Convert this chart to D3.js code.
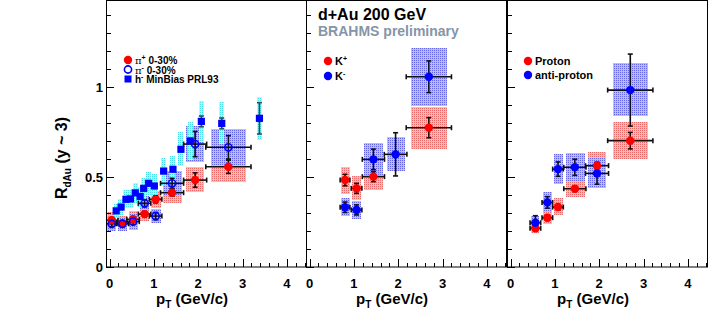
<!DOCTYPE html>
<html>
<head>
<meta charset="utf-8">
<script src="https://cdn.jsdelivr.net/npm/d3@7"></script>
<style>
  body { margin: 0; background: #fff; }
  svg { display: block; font-family: "Liberation Sans", Arial, Helvetica, sans-serif; }
</style>
</head>
<body>
<script>
// ---- data ----
// panel 1: pions and h-
var piPt = [0.05, 0.29, 0.53, 0.79, 1.04, 1.41, 1.93, 2.68];
var piPtErr = [0.14, 0.14, 0.14, 0.14, 0.14, 0.26, 0.26, 0.51];
var piBin = [0.1, 0.1, 0.1, 0.1, 0.11, 0.21, 0.2, 0.4];
var piPlusR = [0.26, 0.243, 0.265, 0.294, 0.376, 0.413, 0.483, 0.557];
var piPlusStat = [0.015, 0.015, 0.015, 0.015, 0.02, 0.018, 0.04, 0.037];
var piPlusSys = [0.045, 0.04, 0.045, 0.04, 0.047, 0.055, 0.07, 0.083];
var piMinusR = [0.24, 0.24, 0.252, 0.354, 0.283, 0.465, 0.683, 0.665];
var piMinusStat = [0.015, 0.015, 0.015, 0.02, 0.02, 0.028, 0.07, 0.065];
var piMinusSys = [0.04, 0.04, 0.045, 0.04, 0.04, 0.07, 0.1, 0.1];

var hPt = [0.15, 0.26, 0.37, 0.47, 0.58, 0.69, 0.77, 0.88, 1.01, 1.22, 1.43, 1.61, 1.82, 2.07, 2.53, 3.38];
var hR = [0.312, 0.333, 0.376, 0.378, 0.412, 0.392, 0.437, 0.465, 0.45, 0.533, 0.543, 0.654, 0.70, 0.809, 0.798, 0.826];
var hStat = [0.01, 0.01, 0.01, 0.01, 0.01, 0.01, 0.01, 0.01, 0.01, 0.01, 0.01, 0.012, 0.015, 0.03, 0.03, 0.087];
var hSys = [0.04, 0.045, 0.05, 0.05, 0.055, 0.055, 0.06, 0.065, 0.065, 0.075, 0.075, 0.095, 0.105, 0.113, 0.118, 0.12];
var hBin = 0.06;

// panel 2: kaons
var kPlusPt = [0.80, 1.06, 1.44, 2.69];
var kPlusPtErr = [0.11, 0.12, 0.25, 0.51];
var kPlusBin = [0.1, 0.1, 0.21, 0.41];
var kPlusR = [0.483, 0.437, 0.502, 0.774];
var kPlusStat = [0.032, 0.028, 0.028, 0.056];
var kPlusSys = [0.074, 0.067, 0.076, 0.116];
var kMinusPt = [0.80, 1.06, 1.44, 1.94, 2.69];
var kMinusPtErr = [0.11, 0.12, 0.25, 0.255, 0.51];
var kMinusBin = [0.1, 0.1, 0.21, 0.2, 0.41];
var kMinusR = [0.332, 0.317, 0.598, 0.626, 1.057];
var kMinusStat = [0.029, 0.028, 0.057, 0.12, 0.088];
var kMinusSys = [0.05, 0.05, 0.09, 0.095, 0.16];

// panel 3: protons
var pPt = [0.56, 0.83, 1.07, 1.45, 1.95, 2.70];
var pPtErr = [0.12, 0.12, 0.12, 0.25, 0.26, 0.51];
var pBin = [0.09, 0.1, 0.1, 0.21, 0.2, 0.4];
var protonR = [0.215, 0.274, 0.333, 0.435, 0.563, 0.702];
var protonStat = [0.013, 0.015, 0.015, 0.015, 0.019, 0.046];
var protonSys = [0.028, 0.037, 0.048, 0.048, 0.074, 0.103];
var antiR = [0.246, 0.359, 0.544, 0.554, 0.52, 0.983];
var antiStat = [0.039, 0.032, 0.04, 0.045, 0.06, 0.2];
var antiSys = [0.037, 0.055, 0.083, 0.079, 0.083, 0.148];

var xTicks = [0, 1, 2, 3, 4];
var yTicks = [0, 0.5, 1];

// ---- layout ----
var width = 708, height = 332;
var panelLeft = [106, 306, 507];
var panelW = 200;
var plotTop = 1, plotBottom = 267;

var svg = d3.select("body").append("svg").attr("width", width).attr("height", height);

var y = d3.scaleLinear().domain([0, 1.478]).range([plotBottom, plotTop]);

// dotted fill patterns (one dark pixel per 2x2 cell)
var defs = svg.append("defs");
function pattern(id, light, dark) {
    var p = defs.append("pattern").attr("id", id).attr("patternUnits", "userSpaceOnUse")
        .attr("width", 2).attr("height", 2);
    p.append("rect").attr("width", 2).attr("height", 2).attr("fill", light);
    p.append("rect").attr("width", 1).attr("height", 1).attr("fill", dark);
}
pattern("pinkDots", "#f9bcbc", "#ea6a6a");
pattern("blueDots", "#bcbcf8", "#6464e6");
pattern("cyanDots", "#b4f8f8", "#48dce8");

function makePanel(i) {
    var left = panelLeft[i];
    var x = d3.scaleLinear().domain([-0.08, 4.43]).range([left, left + panelW]);
    defs.append("clipPath").attr("id", "clip" + i).append("rect")
        .attr("x", left).attr("y", plotTop).attr("width", panelW).attr("height", plotBottom - plotTop);
    var g = svg.append("g");
    var plot = g.append("g").attr("clip-path", "url(#clip" + i + ")");
    return { x: x, g: g, plot: plot, left: left };
}

function boxes(p, pts, rs, bins, sys, fill) {
    p.plot.append("g").selectAll("rect").data(pts).enter().append("rect")
        .attr("x", function (d, i) { return Math.round(p.x(d - (Array.isArray(bins) ? bins[i] : bins))); })
        .attr("width", function (d, i) { var b = Array.isArray(bins) ? bins[i] : bins; return Math.round(p.x(d + b) - p.x(d - b)); })
        .attr("y", function (d, i) { return Math.round(y(rs[i] + sys[i])); })
        .attr("height", function (d, i) { return Math.round(y(rs[i] - sys[i]) - y(rs[i] + sys[i])); })
        .attr("fill", "url(#" + fill + ")");
}

function errors(p, pts, rs, xerr, stat, color) {
    var eg = p.plot.append("g").attr("stroke", color).attr("stroke-width", 1.6).attr("fill", "none");
    pts.forEach(function (d, i) {
        var cx = p.x(d), cy = y(rs[i]);
        var y1 = y(rs[i] + stat[i]), y2 = y(rs[i] - stat[i]);
        eg.append("line").attr("x1", cx).attr("x2", cx).attr("y1", y1).attr("y2", y2);
        eg.append("line").attr("x1", cx - 2.5).attr("x2", cx + 2.5).attr("y1", y1).attr("y2", y1);
        eg.append("line").attr("x1", cx - 2.5).attr("x2", cx + 2.5).attr("y1", y2).attr("y2", y2);
        if (xerr) {
            var x1 = p.x(d - xerr[i]), x2 = p.x(d + xerr[i]);
            eg.append("line").attr("x1", x1).attr("x2", x2).attr("y1", cy).attr("y2", cy);
            eg.append("line").attr("x1", x1).attr("x2", x1).attr("y1", cy - 2.5).attr("y2", cy + 2.5);
            eg.append("line").attr("x1", x2).attr("x2", x2).attr("y1", cy - 2.5).attr("y2", cy + 2.5);
        }
    });
}

function circles(p, pts, rs, color, open) {
    p.plot.append("g").selectAll("circle").data(pts).enter().append("circle")
        .attr("cx", function (d) { return p.x(d); })
        .attr("cy", function (d, i) { return y(rs[i]); })
        .attr("r", open ? 3.6 : 4.2)
        .attr("fill", open ? "none" : color)
        .attr("stroke", color).attr("stroke-width", open ? 1.6 : 0);
}

function squares(p, pts, rs, color) {
    p.plot.append("g").selectAll("rect").data(pts).enter().append("rect")
        .attr("x", function (d) { return p.x(d) - 3.6; })
        .attr("y", function (d, i) { return y(rs[i]) - 3.6; })
        .attr("width", 7.2).attr("height", 7.2).attr("fill", color);
}

function frame(p, i) {
    var g = p.g;
    g.append("rect").attr("x", p.left + 0.5).attr("y", plotTop - 0.5).attr("width", panelW)
        .attr("height", plotBottom - plotTop + 0.5).attr("fill", "none").attr("stroke", "#000").attr("stroke-width", 1);
    // y ticks, inside
    var yt = d3.range(0, 15).map(function (k) { return k / 10; });
    g.append("g").selectAll("line").data(yt).enter().append("line")
        .attr("x1", p.left).attr("x2", function (d) { return p.left + (Math.round(d * 10) % 5 === 0 ? 8 : 5); })
        .attr("y1", function (d) { return Math.round(y(d)) + 0.5; })
        .attr("y2", function (d) { return Math.round(y(d)) + 0.5; })
        .attr("stroke", "#000");
    // x ticks, inside
    var xt = d3.range(0, 23).map(function (k) { return k / 5; }).filter(function (d) { return p.x(d) < p.left + panelW - 1; });
    g.append("g").selectAll("line").data(xt).enter().append("line")
        .attr("x1", function (d) { return Math.round(p.x(d)) + 0.5; })
        .attr("x2", function (d) { return Math.round(p.x(d)) + 0.5; })
        .attr("y1", plotBottom).attr("y2", function (d) { return plotBottom - (Math.round(d * 5) % 5 === 0 ? 8 : 4); })
        .attr("stroke", "#000");
    g.append("g").selectAll("text").data(xTicks).enter().append("text")
        .attr("x", function (d) { return p.x(d); }).attr("y", 288)
        .attr("text-anchor", "middle").attr("font-size", 13).attr("font-weight", "bold")
        .text(function (d) { return d; });
    var t = g.append("text").attr("x", p.left + 86).attr("y", 304).attr("text-anchor", "middle")
        .attr("font-size", 15).attr("font-weight", "bold");
    t.append("tspan").text("p");
    t.append("tspan").attr("dy", 4).attr("font-size", 10).text("T");
    t.append("tspan").attr("dy", -4).text(" (GeV/c)");
}

function legend(g, lx, ly, items) {
    items.forEach(function (it, k) {
        var cy = ly + k * it.step;
        if (it.shape === "square") {
            g.append("rect").attr("x", lx - 3.5).attr("y", cy - 3.5).attr("width", 7).attr("height", 7).attr("fill", it.color);
        } else {
            g.append("circle").attr("cx", lx).attr("cy", cy).attr("r", it.shape === "open" ? 3.6 : 4.2)
                .attr("fill", it.shape === "open" ? "none" : it.color)
                .attr("stroke", it.color).attr("stroke-width", it.shape === "open" ? 1.6 : 0);
        }
        var t = g.append("text").attr("x", lx + 7).attr("y", cy + 4).attr("font-size", it.size || 11).attr("font-weight", "bold");
        it.parts.forEach(function (pt) {
            var s = t.append("tspan").text(pt[0]);
            if (pt[1] === "sup") s.attr("dy", -4).attr("font-size", 7);
            if (pt[1] === "back") s.attr("dy", 4);
            if (pt[1] === "greek") s.attr("font-weight", "normal").attr("font-family", "DejaVu Serif, serif");
        });
    });
}

// ---- panel 1 ----
var p1 = makePanel(0);
boxes(p1, piPt, piPlusR, piBin, piPlusSys, "pinkDots");
boxes(p1, piPt, piMinusR, piBin, piMinusSys, "blueDots");
boxes(p1, hPt, hR, hBin, hSys, "cyanDots");
errors(p1, piPt, piPlusR, piPtErr, piPlusStat, "#111");
errors(p1, piPt, piMinusR, piPtErr, piMinusStat, "#111");
errors(p1, hPt, hR, null, hStat, "#2f5050");
circles(p1, piPt, piPlusR, "#ff0000", false);
circles(p1, piPt, piMinusR, "#0000ff", true);
squares(p1, hPt, hR, "#0000ff");
frame(p1, 0);
legend(p1.g, 128, 60, [
    { shape: "circle", color: "#ff0000", step: 9.5, size: 10, parts: [["π", "greek"], ["+", "sup"], [" 0-30%", "back"]] },
    { shape: "open", color: "#0000ff", step: 9.5, size: 10, parts: [["π", "greek"], ["-", "sup"], [" 0-30%", "back"]] },
    { shape: "square", color: "#0000ff", step: 9.5, size: 10, parts: [["h"], ["-", "sup"], [" MinBias PRL93", "back"]] }
]);
p1.g.append("g").selectAll("text").data(yTicks).enter().append("text")
    .attr("x", 103).attr("y", function (d) { return y(d) + 5; })
    .attr("text-anchor", "end").attr("font-size", 13).attr("font-weight", "bold")
    .text(function (d) { return d; });
var ytitle = svg.append("text").attr("transform", "translate(67,158) rotate(-90)")
    .attr("text-anchor", "middle").attr("font-size", 16).attr("font-weight", "bold");
ytitle.append("tspan").text("R");
ytitle.append("tspan").attr("dy", 4).attr("font-size", 10).text("dAu");
ytitle.append("tspan").attr("dy", -4).text(" (y ~ 3)");

// ---- panel 2 ----
var p2 = makePanel(1);
boxes(p2, kPlusPt, kPlusR, kPlusBin, kPlusSys, "pinkDots");
boxes(p2, kMinusPt, kMinusR, kMinusBin, kMinusSys, "blueDots");
errors(p2, kPlusPt, kPlusR, kPlusPtErr, kPlusStat, "#111");
errors(p2, kMinusPt, kMinusR, kMinusPtErr, kMinusStat, "#111");
circles(p2, kPlusPt, kPlusR, "#ff0000", false);
circles(p2, kMinusPt, kMinusR, "#0000ff", false);
frame(p2, 1);
legend(p2.g, 328, 61, [
    { shape: "circle", color: "#ff0000", step: 15, parts: [["K"], ["+", "sup"]] },
    { shape: "circle", color: "#0000ff", step: 15, parts: [["K"], ["-", "sup"]] }
]);
p2.g.append("text").attr("x", 318).attr("y", 20).attr("font-size", 16).attr("font-weight", "bold")
    .text("d+Au 200 GeV");
p2.g.append("text").attr("x", 318).attr("y", 36).attr("font-size", 14).attr("font-weight", "bold")
    .attr("fill", "#8595a8").text("BRAHMS preliminary");

// ---- panel 3 ----
var p3 = makePanel(2);
boxes(p3, pPt, protonR, pBin, protonSys, "pinkDots");
boxes(p3, pPt, antiR, pBin, antiSys, "blueDots");
errors(p3, pPt, protonR, pPtErr, protonStat, "#111");
errors(p3, pPt, antiR, pPtErr, antiStat, "#111");
circles(p3, pPt, protonR, "#ff0000", false);
circles(p3, pPt, antiR, "#0000ff", false);
frame(p3, 2);
legend(p3.g, 528, 61, [
    { shape: "circle", color: "#ff0000", step: 14, parts: [["Proton"]] },
    { shape: "circle", color: "#0000ff", step: 14, parts: [["anti-proton"]] }
]);
</script>
</body>
</html>
